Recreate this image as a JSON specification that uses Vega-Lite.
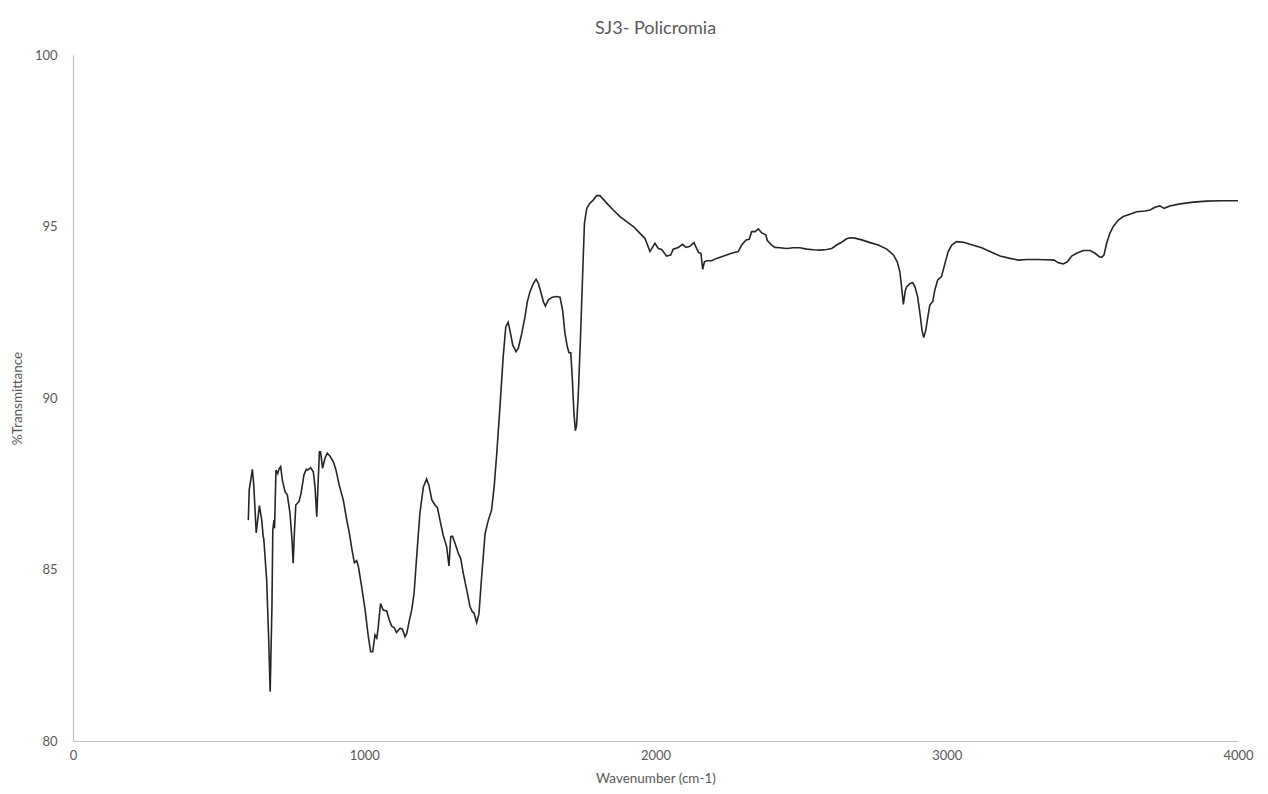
{
  "$schema": "https://vega.github.io/schema/vega-lite/v6.json",
  "width": 1165,
  "height": 686,
  "autosize": {"type": "none"},
  "padding": {"left": 73, "top": 55, "right": 30, "bottom": 53},
  "background": "white",
  "title": {"text": "SJ3- Policromia", "anchor": "middle", "frame": "group", "fontSize": 18, "font": "Lato", "fontWeight": "normal", "color": "#595959", "offset": 11},
  "config": {"view": {"stroke": null}, "font": "Lato"},
  "data": {"values": [
    {"wn":602,"t":86.44},{"wn":605,"t":87.32},{"wn":616,"t":87.92},{"wn":621,"t":87.41},{"wn":629,"t":86.07},{"wn":640,"t":86.86},{"wn":648,"t":86.44},{"wn":653,"t":85.96},{"wn":655,"t":85.9},{"wn":665,"t":84.69},{"wn":672,"t":82.94},{"wn":677,"t":81.44},{"wn":683,"t":83.9},{"wn":686,"t":86.15},{"wn":690,"t":86.44},{"wn":692,"t":86.2},{"wn":697,"t":87.9},{"wn":703,"t":87.8},{"wn":707,"t":87.92},{"wn":713,"t":88.0},{"wn":719,"t":87.6},{"wn":728,"t":87.27},{"wn":736,"t":87.17},{"wn":745,"t":86.64},{"wn":752,"t":85.86},{"wn":756,"t":85.18},{"wn":760,"t":86.05},{"wn":765,"t":86.88},{"wn":776,"t":86.98},{"wn":783,"t":87.22},{"wn":793,"t":87.76},{"wn":801,"t":87.92},{"wn":806,"t":87.9},{"wn":816,"t":87.97},{"wn":825,"t":87.85},{"wn":831,"t":87.41},{"wn":837,"t":86.54},{"wn":840,"t":87.2},{"wn":846,"t":88.43},{"wn":850,"t":88.43},{"wn":857,"t":87.95},{"wn":865,"t":88.24},{"wn":873,"t":88.39},{"wn":882,"t":88.31},{"wn":894,"t":88.14},{"wn":903,"t":87.9},{"wn":914,"t":87.46},{"wn":928,"t":87.03},{"wn":940,"t":86.44},{"wn":949,"t":86.05},{"wn":958,"t":85.57},{"wn":966,"t":85.2},{"wn":974,"t":85.26},{"wn":980,"t":85.08},{"wn":991,"t":84.5},{"wn":1003,"t":83.82},{"wn":1014,"t":83.04},{"wn":1022,"t":82.6},{"wn":1029,"t":82.6},{"wn":1037,"t":83.09},{"wn":1043,"t":83.0},{"wn":1047,"t":83.24},{"wn":1056,"t":84.01},{"wn":1065,"t":83.82},{"wn":1077,"t":83.79},{"wn":1086,"t":83.53},{"wn":1094,"t":83.35},{"wn":1103,"t":83.3},{"wn":1111,"t":83.16},{"wn":1123,"t":83.29},{"wn":1131,"t":83.26},{"wn":1140,"t":83.04},{"wn":1146,"t":83.14},{"wn":1154,"t":83.48},{"wn":1163,"t":83.82},{"wn":1171,"t":84.3},{"wn":1180,"t":85.37},{"wn":1191,"t":86.64},{"wn":1203,"t":87.41},{"wn":1214,"t":87.64},{"wn":1222,"t":87.46},{"wn":1232,"t":87.03},{"wn":1243,"t":86.88},{"wn":1251,"t":86.81},{"wn":1260,"t":86.44},{"wn":1271,"t":86.0},{"wn":1283,"t":85.66},{"wn":1291,"t":85.1},{"wn":1297,"t":85.96},{"wn":1303,"t":85.97},{"wn":1312,"t":85.76},{"wn":1323,"t":85.47},{"wn":1331,"t":85.33},{"wn":1340,"t":84.89},{"wn":1352,"t":84.4},{"wn":1363,"t":83.92},{"wn":1371,"t":83.77},{"wn":1377,"t":83.73},{"wn":1386,"t":83.45},{"wn":1394,"t":83.72},{"wn":1403,"t":84.79},{"wn":1415,"t":86.05},{"wn":1426,"t":86.44},{"wn":1437,"t":86.73},{"wn":1446,"t":87.41},{"wn":1455,"t":88.39},{"wn":1466,"t":89.75},{"wn":1477,"t":91.2},{"wn":1486,"t":92.08},{"wn":1494,"t":92.21},{"wn":1500,"t":91.98},{"wn":1510,"t":91.54},{"wn":1521,"t":91.35},{"wn":1529,"t":91.45},{"wn":1541,"t":91.89},{"wn":1552,"t":92.37},{"wn":1560,"t":92.81},{"wn":1569,"t":93.1},{"wn":1581,"t":93.34},{"wn":1590,"t":93.46},{"wn":1598,"t":93.34},{"wn":1606,"t":93.1},{"wn":1615,"t":92.81},{"wn":1622,"t":92.68},{"wn":1632,"t":92.86},{"wn":1646,"t":92.94},{"wn":1661,"t":92.96},{"wn":1672,"t":92.94},{"wn":1681,"t":92.57},{"wn":1689,"t":91.89},{"wn":1697,"t":91.5},{"wn":1703,"t":91.32},{"wn":1709,"t":91.32},{"wn":1714,"t":90.62},{"wn":1720,"t":89.55},{"wn":1725,"t":89.05},{"wn":1729,"t":89.2},{"wn":1735,"t":90.14},{"wn":1743,"t":91.89},{"wn":1750,"t":93.64},{"wn":1756,"t":95.09},{"wn":1764,"t":95.53},{"wn":1775,"t":95.68},{"wn":1786,"t":95.77},{"wn":1798,"t":95.9},{"wn":1809,"t":95.9},{"wn":1821,"t":95.79},{"wn":1838,"t":95.63},{"wn":1855,"t":95.48},{"wn":1878,"t":95.29},{"wn":1901,"t":95.14},{"wn":1924,"t":95.0},{"wn":1947,"t":94.8},{"wn":1964,"t":94.65},{"wn":1981,"t":94.27},{"wn":1998,"t":94.51},{"wn":2010,"t":94.36},{"wn":2021,"t":94.33},{"wn":2038,"t":94.14},{"wn":2052,"t":94.17},{"wn":2061,"t":94.34},{"wn":2078,"t":94.39},{"wn":2093,"t":94.48},{"wn":2105,"t":94.39},{"wn":2118,"t":94.42},{"wn":2132,"t":94.53},{"wn":2141,"t":94.36},{"wn":2148,"t":94.24},{"wn":2156,"t":94.22},{"wn":2162,"t":93.75},{"wn":2168,"t":93.97},{"wn":2176,"t":94.0},{"wn":2193,"t":94.0},{"wn":2210,"t":94.07},{"wn":2227,"t":94.12},{"wn":2244,"t":94.17},{"wn":2261,"t":94.22},{"wn":2284,"t":94.27},{"wn":2296,"t":94.46},{"wn":2311,"t":94.61},{"wn":2322,"t":94.63},{"wn":2330,"t":94.85},{"wn":2342,"t":94.85},{"wn":2353,"t":94.93},{"wn":2364,"t":94.82},{"wn":2379,"t":94.75},{"wn":2384,"t":94.59},{"wn":2399,"t":94.46},{"wn":2410,"t":94.39},{"wn":2427,"t":94.38},{"wn":2450,"t":94.36},{"wn":2473,"t":94.38},{"wn":2496,"t":94.38},{"wn":2519,"t":94.34},{"wn":2542,"t":94.32},{"wn":2565,"t":94.31},{"wn":2588,"t":94.33},{"wn":2605,"t":94.36},{"wn":2622,"t":94.46},{"wn":2639,"t":94.54},{"wn":2656,"t":94.64},{"wn":2668,"t":94.67},{"wn":2685,"t":94.66},{"wn":2708,"t":94.61},{"wn":2737,"t":94.53},{"wn":2765,"t":94.46},{"wn":2794,"t":94.34},{"wn":2817,"t":94.17},{"wn":2830,"t":93.97},{"wn":2839,"t":93.68},{"wn":2845,"t":93.24},{"wn":2851,"t":92.73},{"wn":2857,"t":93.1},{"wn":2862,"t":93.24},{"wn":2874,"t":93.34},{"wn":2883,"t":93.36},{"wn":2891,"t":93.24},{"wn":2900,"t":92.95},{"wn":2908,"t":92.47},{"wn":2915,"t":91.98},{"wn":2921,"t":91.76},{"wn":2928,"t":91.98},{"wn":2937,"t":92.47},{"wn":2942,"t":92.71},{"wn":2952,"t":92.81},{"wn":2959,"t":93.15},{"wn":2969,"t":93.44},{"wn":2982,"t":93.54},{"wn":2994,"t":93.93},{"wn":3005,"t":94.27},{"wn":3017,"t":94.46},{"wn":3034,"t":94.56},{"wn":3057,"t":94.54},{"wn":3080,"t":94.48},{"wn":3120,"t":94.38},{"wn":3148,"t":94.27},{"wn":3183,"t":94.14},{"wn":3217,"t":94.07},{"wn":3246,"t":94.02},{"wn":3274,"t":94.04},{"wn":3309,"t":94.04},{"wn":3343,"t":94.03},{"wn":3369,"t":94.02},{"wn":3383,"t":93.94},{"wn":3400,"t":93.91},{"wn":3414,"t":93.97},{"wn":3429,"t":94.14},{"wn":3446,"t":94.22},{"wn":3469,"t":94.3},{"wn":3492,"t":94.3},{"wn":3509,"t":94.22},{"wn":3524,"t":94.12},{"wn":3532,"t":94.1},{"wn":3540,"t":94.17},{"wn":3549,"t":94.51},{"wn":3560,"t":94.8},{"wn":3572,"t":95.0},{"wn":3589,"t":95.19},{"wn":3606,"t":95.29},{"wn":3629,"t":95.36},{"wn":3652,"t":95.43},{"wn":3681,"t":95.45},{"wn":3698,"t":95.48},{"wn":3715,"t":95.56},{"wn":3732,"t":95.6},{"wn":3746,"t":95.53},{"wn":3766,"t":95.6},{"wn":3801,"t":95.66},{"wn":3847,"t":95.71},{"wn":3892,"t":95.74},{"wn":3938,"t":95.75},{"wn":4000,"t":95.75}
  ]},
  "mark": {"type": "line", "color": "#262626", "strokeWidth": 1.6, "interpolate": "linear"},
  "encoding": {
    "x": {
      "field": "wn", "type": "quantitative",
      "scale": {"domain": [0, 4000], "nice": false, "zero": false},
      "axis": {"values": [0, 1000, 2000, 3000, 4000], "format": "d", "grid": false, "ticks": false, "domainColor": "#bfbfbf", "domainWidth": 1.2, "labelColor": "#595959", "labelFontSize": 13, "labelFont": "Lato", "labelPadding": 8, "labelFlush": false, "title": "Wavenumber (cm-1)", "titleColor": "#595959", "titleFontSize": 13.5, "titleFont": "Lato", "titleFontWeight": "normal", "titlePadding": 9}
    },
    "y": {
      "field": "t", "type": "quantitative",
      "scale": {"domain": [80, 100], "nice": false, "zero": false},
      "axis": {"values": [80, 85, 90, 95, 100], "grid": false, "ticks": false, "domainColor": "#bfbfbf", "domainWidth": 1.2, "labelColor": "#595959", "labelFontSize": 13, "labelFont": "Lato", "labelPadding": 16, "labelFlush": false, "title": "%Transmittance", "titleColor": "#595959", "titleFontSize": 13.5, "titleFont": "Lato", "titleFontWeight": "normal", "titleX": -56, "titleBaseline": "middle"}
    }
  }
}
